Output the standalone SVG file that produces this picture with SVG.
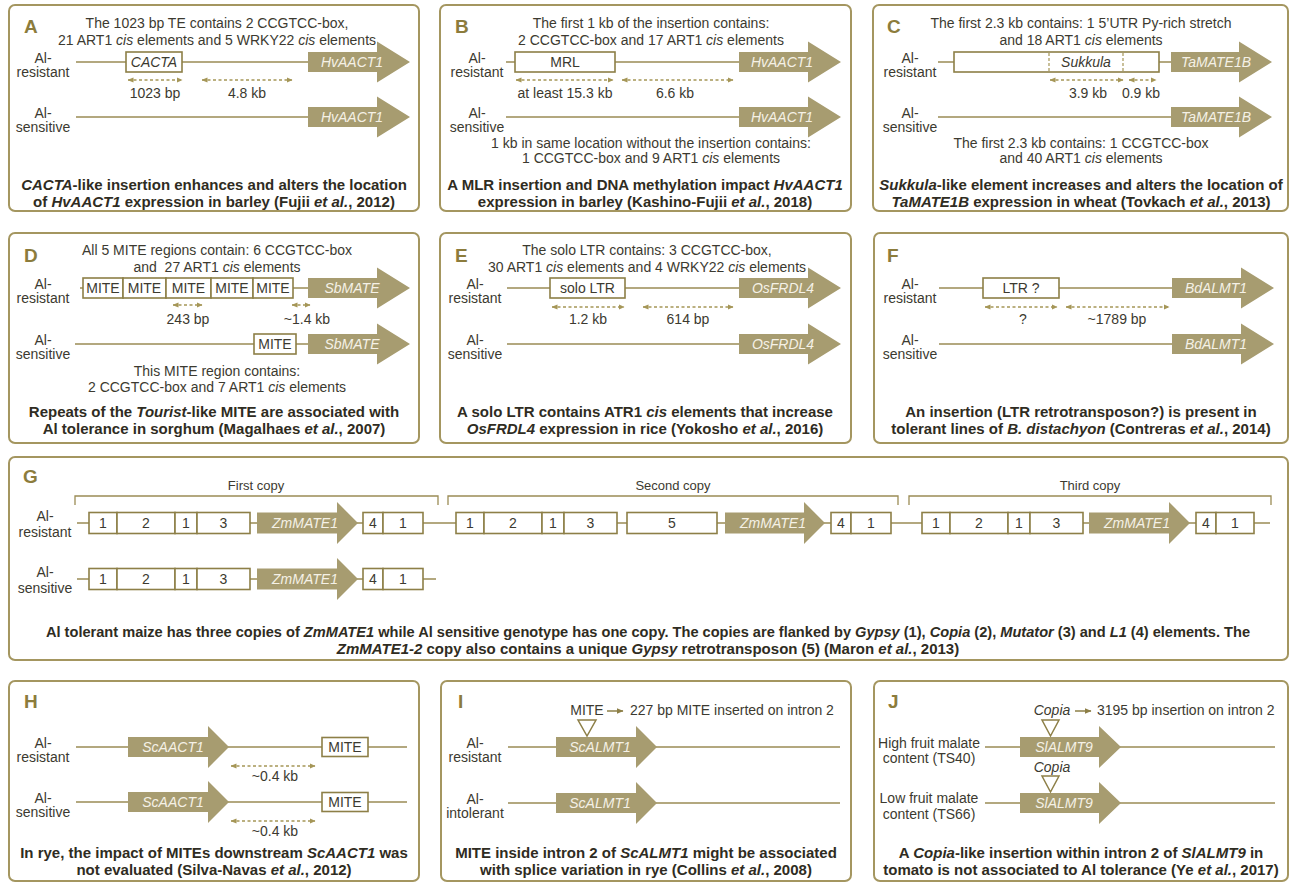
<svg xmlns="http://www.w3.org/2000/svg" width="1292" height="885" viewBox="0 0 1292 885">
<defs>
<style>
text{font-family:"Liberation Sans",Arial,sans-serif;font-size:14px;fill:#3c3a30;text-anchor:middle}
.panel{fill:#fff;stroke:#a49660;stroke-width:2}
.let{font-size:19px;font-weight:bold;fill:#8c7c3c;text-anchor:start}
.cap{font-size:15px;font-weight:bold;fill:#2f2c22}
.gene{font-style:italic;fill:#f5f1e6}
.it{font-style:italic}
.st{text-anchor:start}
.arr{fill:#a79c70}
.dna{stroke:#9b8c55;stroke-width:1.6;fill:none}
.box{fill:#fff;stroke:#8d7f47;stroke-width:1.6}
.dim{stroke:#a59657;stroke-width:1.3;stroke-dasharray:3 2.5;fill:none;marker-start:url(#ah);marker-end:url(#ah)}
.ptr{stroke:#8d7f47;stroke-width:1.5;fill:none;marker-end:url(#ah2)}
.brk{stroke:#9b8c55;stroke-width:1.3;fill:none}
.tri{fill:#fff;stroke:#8d7f47;stroke-width:1.5}
.sm{font-size:13px}
</style>
<marker id="ah" viewBox="0 0 6 6" refX="5.5" refY="3" markerWidth="6" markerHeight="6" markerUnits="userSpaceOnUse" orient="auto-start-reverse"><path d="M0,0.4 L6,3 L0,5.6Z" fill="#a59657"/></marker>
<marker id="ah2" viewBox="0 0 7 7" refX="6.5" refY="3.5" markerWidth="7" markerHeight="7" markerUnits="userSpaceOnUse" orient="auto"><path d="M0,0.5 L7,3.5 L0,6.5Z" fill="#8d7f47"/></marker>
</defs>
<rect width="1292" height="885" fill="#fff"/>

<!-- Panel A -->
<g id="panel-A">
<rect class="panel" x="9" y="5" width="410" height="206" rx="6"/>
<text class="let" x="24" y="33">A</text>
<text x="217" y="28">The 1023 bp TE contains 2 CCGTCC-box,</text>
<text x="217" y="45">21 ART1 <tspan class="it">cis</tspan> elements and 5 WRKY22 <tspan class="it">cis</tspan> elements</text>
<text x="43" y="63">Al-</text><text x="43" y="77">resistant</text>
<text x="43" y="118">Al-</text><text x="43" y="132">sensitive</text>
<g id="panel-A-lines">
<path class="dna" d="M76,62 H126 M182,62 H308 M76,117 H308"/>
<path class="dim" d="M128,80 H182"/><path class="dim" d="M202,80 H292"/>
</g>
<g id="A-cacta"><rect class="box" x="126" y="52" width="56" height="20"/><text class="it" x="154" y="67">CACTA</text></g>
<g id="A-gene1"><path class="arr" d="M308,52 H377 V41.5 L410,62 L377,82.5 V72 H308 Z"/><text class="gene" x="352" y="67">HvAACT1</text></g>
<g id="A-gene2"><path class="arr" d="M308,107 H377 V96.5 L410,117 L377,137.5 V127 H308 Z"/><text class="gene" x="352" y="122">HvAACT1</text></g>
<text x="155" y="98">1023 bp</text><text x="247" y="98">4.8 kb</text>
<text class="cap" x="214" y="190"><tspan class="it">CACTA</tspan>-like insertion enhances and alters the location</text>
<text class="cap" x="214" y="207">of <tspan class="it">HvAACT1</tspan> expression in barley (Fujii <tspan class="it">et al.</tspan>, 2012)</text>
</g>

<!-- Panel B -->
<g id="panel-B">
<rect class="panel" x="440" y="5" width="411" height="206" rx="6"/>
<text class="let" x="455" y="33">B</text>
<text x="651" y="28">The first 1 kb of the insertion contains:</text>
<text x="651" y="45">2 CCGTCC-box and 17 ART1 <tspan class="it">cis</tspan> elements</text>
<text x="477" y="63">Al-</text><text x="477" y="77">resistant</text>
<text x="477" y="118">Al-</text><text x="477" y="132">sensitive</text>
<g id="panel-B-lines">
<path class="dna" d="M506,62 H515 M615,62 H739 M506,117 H739"/>
<path class="dim" d="M516,80 H613"/><path class="dim" d="M622,80 H733"/>
</g>
<g id="B-mrl"><rect class="box" x="515" y="52" width="100" height="20"/><text x="565" y="67">MRL</text></g>
<g id="B-gene1"><path class="arr" d="M739,52 H808 V41.5 L841,62 L808,82.5 V72 H739 Z"/><text class="gene" x="782" y="67">HvAACT1</text></g>
<g id="B-gene2"><path class="arr" d="M739,107 H808 V96.5 L841,117 L808,137.5 V127 H739 Z"/><text class="gene" x="782" y="122">HvAACT1</text></g>
<text x="565" y="98">at least 15.3 kb</text><text x="675" y="98">6.6 kb</text>
<text x="651" y="148">1 kb in same location without the insertion contains:</text>
<text x="651" y="163">1 CCGTCC-box and 9 ART1 <tspan class="it">cis</tspan> elements</text>
<text class="cap" x="645" y="190">A MLR insertion and DNA methylation impact <tspan class="it">HvAACT1</tspan></text>
<text class="cap" x="645" y="207">expression in barley (Kashino-Fujii <tspan class="it">et al.</tspan>, 2018)</text>
</g>

<!-- Panel C -->
<g id="panel-C">
<rect class="panel" x="873" y="5" width="415" height="206" rx="6"/>
<text class="let" x="887" y="33">C</text>
<text x="1081" y="28">The first 2.3 kb contains: 1 5’UTR Py-rich stretch</text>
<text x="1081" y="45">and 18 ART1 <tspan class="it">cis</tspan> elements</text>
<text x="910" y="63">Al-</text><text x="910" y="77">resistant</text>
<text x="910" y="118">Al-</text><text x="910" y="132">sensitive</text>
<g id="panel-C-lines">
<path class="dna" d="M938,62 H954 M1159,62 H1171 M938,117 H1171"/>
<path class="dim" d="M1050,80 H1123"/><path class="dim" d="M1129,80 H1156"/>
</g>
<g id="C-sukkula"><rect class="box" x="954" y="52" width="205" height="20"/>
<path d="M1049,53 V71 M1123,53 V71" stroke="#a59657" stroke-width="1.2" stroke-dasharray="3 2"/>
<text class="it" x="1086" y="67">Sukkula</text></g>
<g id="C-gene1"><path class="arr" d="M1171,52 H1239 V41.5 L1272,62 L1239,82.5 V72 H1171 Z"/><text class="gene" x="1216" y="67">TaMATE1B</text></g>
<g id="C-gene2"><path class="arr" d="M1171,107 H1239 V96.5 L1272,117 L1239,137.5 V127 H1171 Z"/><text class="gene" x="1216" y="122">TaMATE1B</text></g>
<text x="1088" y="98">3.9 kb</text><text x="1141" y="98">0.9 kb</text>
<text x="1081" y="148">The first 2.3 kb contains: 1 CCGTCC-box</text>
<text x="1081" y="163">and 40 ART1 <tspan class="it">cis</tspan> elements</text>
<text class="cap" x="1081" y="190"><tspan class="it">Sukkula</tspan>-like element increases and alters the location of</text>
<text class="cap" x="1081" y="207"><tspan class="it">TaMATE1B</tspan> expression in wheat (Tovkach <tspan class="it">et al.</tspan>, 2013)</text>
</g>

<!-- Panel D -->
<g id="panel-D">
<rect class="panel" x="9" y="233" width="410" height="210" rx="6"/>
<text class="let" x="24" y="262">D</text>
<text x="217" y="255">All 5 MITE regions contain: 6 CCGTCC-box</text>
<text x="217" y="272">and&#160; 27 ART1 <tspan class="it">cis</tspan> elements</text>
<text x="43" y="289">Al-</text><text x="43" y="303">resistant</text>
<text x="43" y="345">Al-</text><text x="43" y="359">sensitive</text>
<g id="panel-D-lines">
<path class="dna" d="M80,288 H83 M293,288 H308 M75,344 H254 M296,344 H308"/>
<path class="dim" d="M173,305 H202"/><path class="dim" d="M292,305 H310"/>
</g>
<g id="D-mites">
<rect class="box" x="83" y="278" width="40" height="20"/><text x="103" y="293">MITE</text>
<rect class="box" x="123" y="278" width="43" height="20"/><text x="144.5" y="293">MITE</text>
<rect class="box" x="166" y="278" width="45" height="20"/><text x="188.5" y="293">MITE</text>
<rect class="box" x="211" y="278" width="42" height="20"/><text x="232" y="293">MITE</text>
<rect class="box" x="253" y="278" width="40" height="20"/><text x="273" y="293">MITE</text>
</g>
<g id="D-mite2"><rect class="box" x="254" y="334" width="42" height="20"/><text x="275" y="349">MITE</text></g>
<g id="D-gene1"><path class="arr" d="M308,278 H377 V267.5 L410,288 L377,308.5 V298 H308 Z"/><text class="gene" x="352" y="293">SbMATE</text></g>
<g id="D-gene2"><path class="arr" d="M308,334 H377 V323.5 L410,344 L377,364.5 V354 H308 Z"/><text class="gene" x="352" y="349">SbMATE</text></g>
<text x="188" y="324">243 bp</text><text x="307" y="324">~1.4 kb</text>
<text x="217" y="376">This MITE region contains:</text>
<text x="217" y="392">2 CCGTCC-box and 7 ART1 <tspan class="it">cis</tspan> elements</text>
<text class="cap" x="214" y="417">Repeats of the <tspan class="it">Tourist</tspan>-like MITE are associated with</text>
<text class="cap" x="214" y="434">Al tolerance in sorghum (Magalhaes <tspan class="it">et al.</tspan>, 2007)</text>
</g>

<!-- Panel E -->
<g id="panel-E">
<rect class="panel" x="440" y="233" width="411" height="210" rx="6"/>
<text class="let" x="455" y="262">E</text>
<text x="647" y="255">The solo LTR contains: 3 CCGTCC-box,</text>
<text x="647" y="272">30 ART1 <tspan class="it">cis</tspan> elements and 4 WRKY22 <tspan class="it">cis</tspan> elements</text>
<text x="475" y="289">Al-</text><text x="475" y="303">resistant</text>
<text x="475" y="345">Al-</text><text x="475" y="359">sensitive</text>
<g id="panel-E-lines">
<path class="dna" d="M507,288 H550 M625,288 H739 M507,344 H739"/>
<path class="dim" d="M552,307 H624"/><path class="dim" d="M643,307 H733"/>
</g>
<g id="E-ltr"><rect class="box" x="550" y="278" width="75" height="20"/><text x="587.5" y="293">solo LTR</text></g>
<g id="E-gene1"><path class="arr" d="M739,278 H808 V267.5 L841,288 L808,308.5 V298 H739 Z"/><text class="gene" x="783" y="293">OsFRDL4</text></g>
<g id="E-gene2"><path class="arr" d="M739,334 H808 V323.5 L841,344 L808,364.5 V354 H739 Z"/><text class="gene" x="783" y="349">OsFRDL4</text></g>
<text x="588" y="324">1.2 kb</text><text x="688" y="324">614 bp</text>
<text class="cap" x="645" y="417">A solo LTR contains ATR1 <tspan class="it">cis</tspan> elements that increase</text>
<text class="cap" x="645" y="434"><tspan class="it">OsFRDL4</tspan> expression in rice (Yokosho <tspan class="it">et al.</tspan>, 2016)</text>
</g>

<!-- Panel F -->
<g id="panel-F">
<rect class="panel" x="874" y="233" width="414" height="210" rx="6"/>
<text class="let" x="887" y="262">F</text>
<text x="910" y="289">Al-</text><text x="910" y="303">resistant</text>
<text x="910" y="345">Al-</text><text x="910" y="359">sensitive</text>
<g id="panel-F-lines">
<path class="dna" d="M939,288 H983 M1059,288 H1172 M939,344 H1172"/>
<path class="dim" d="M985,307 H1057"/><path class="dim" d="M1066,307 H1169"/>
</g>
<g id="F-ltr"><rect class="box" x="983" y="278" width="76" height="20"/><text x="1021" y="293">LTR ?</text></g>
<g id="F-gene1"><path class="arr" d="M1172,278 H1241 V267.5 L1274,288 L1241,308.5 V298 H1172 Z"/><text class="gene" x="1216" y="293">BdALMT1</text></g>
<g id="F-gene2"><path class="arr" d="M1172,334 H1241 V323.5 L1274,344 L1241,364.5 V354 H1172 Z"/><text class="gene" x="1216" y="349">BdALMT1</text></g>
<text x="1023" y="324">?</text><text x="1117" y="324">~1789 bp</text>
<text class="cap" x="1081" y="417">An insertion (LTR retrotransposon?) is present in</text>
<text class="cap" x="1081" y="434">tolerant lines of <tspan class="it">B. distachyon</tspan> (Contreras <tspan class="it">et al.</tspan>, 2014)</text>
</g>

<!-- Panel G -->
<g id="panel-G">
<rect class="panel" x="9" y="457" width="1279" height="203" rx="6"/>
<text class="let" x="23" y="483">G</text>
<text class="sm" x="256" y="490">First copy</text>
<text class="sm" x="673" y="490">Second copy</text>
<text class="sm" x="1090" y="490">Third copy</text>
<path class="brk" d="M75,505 V496 H438 V505 M448,505 V496 H898 V505 M909,505 V496 H1271 V505"/>
<text x="45" y="521">Al-</text><text x="45" y="537">resistant</text>
<text x="45" y="577">Al-</text><text x="45" y="593">sensitive</text>
<g id="panel-G-lines">
<path class="dna" d="M77,523 H1270 M77,579 H436"/>
</g>
<g id="G-copy1" class="box">
<rect x="89" y="512.5" width="28" height="21"/><rect x="117" y="512.5" width="58" height="21"/><rect x="175" y="512.5" width="22" height="21"/><rect x="197" y="512.5" width="53" height="21"/>
<rect x="363" y="512.5" width="20" height="21"/><rect x="383" y="512.5" width="40" height="21"/>
</g>
<g id="G-copy1-text">
<text x="103" y="528">1</text><text x="146" y="528">2</text><text x="186" y="528">1</text><text x="223.5" y="528">3</text><text x="373" y="528">4</text><text x="403" y="528">1</text>
<path class="arr" d="M257,512.5 H337 V502 L358,523 L337,544 V533.5 H257 Z"/><text class="gene" x="305" y="528">ZmMATE1</text>
</g>
<g id="G-copy2" class="box">
<rect x="456" y="512.5" width="28" height="21"/><rect x="484" y="512.5" width="58" height="21"/><rect x="542" y="512.5" width="22" height="21"/><rect x="564" y="512.5" width="53" height="21"/>
<rect x="627" y="512.5" width="90" height="21"/>
<rect x="831" y="512.5" width="20" height="21"/><rect x="851" y="512.5" width="40" height="21"/>
</g>
<g id="G-copy2-text">
<text x="470" y="528">1</text><text x="513" y="528">2</text><text x="553" y="528">1</text><text x="590.5" y="528">3</text><text x="672" y="528">5</text><text x="841" y="528">4</text><text x="871" y="528">1</text>
<path class="arr" d="M725,512.5 H804 V502 L825,523 L804,544 V533.5 H725 Z"/><text class="gene" x="773" y="528">ZmMATE1</text>
</g>
<g id="G-copy3" class="box">
<rect x="922" y="512.5" width="28" height="21"/><rect x="950" y="512.5" width="58" height="21"/><rect x="1008" y="512.5" width="22" height="21"/><rect x="1030" y="512.5" width="53" height="21"/>
<rect x="1196" y="512.5" width="20" height="21"/><rect x="1216" y="512.5" width="38" height="21"/>
</g>
<g id="G-copy3-text">
<text x="936" y="528">1</text><text x="979" y="528">2</text><text x="1019" y="528">1</text><text x="1056.5" y="528">3</text><text x="1206" y="528">4</text><text x="1235" y="528">1</text>
<path class="arr" d="M1089,512.5 H1169 V502 L1190,523 L1169,544 V533.5 H1089 Z"/><text class="gene" x="1137" y="528">ZmMATE1</text>
</g>
<g id="G-sensitive" class="box">
<rect x="89" y="568.5" width="28" height="21"/><rect x="117" y="568.5" width="58" height="21"/><rect x="175" y="568.5" width="22" height="21"/><rect x="197" y="568.5" width="53" height="21"/>
<rect x="363" y="568.5" width="20" height="21"/><rect x="383" y="568.5" width="40" height="21"/>
</g>
<g id="G-sensitive-text">
<text x="103" y="584">1</text><text x="146" y="584">2</text><text x="186" y="584">1</text><text x="223.5" y="584">3</text><text x="373" y="584">4</text><text x="403" y="584">1</text>
<path class="arr" d="M257,568.5 H337 V558 L358,579 L337,600 V589.5 H257 Z"/><text class="gene" x="305" y="584">ZmMATE1</text>
</g>
<text class="cap" x="648" y="637" style="font-size:14.6px">Al tolerant maize has three copies of <tspan class="it">ZmMATE1</tspan> while Al sensitive genotype has one copy. The copies are flanked by <tspan class="it">Gypsy</tspan> (1), <tspan class="it">Copia</tspan> (2), <tspan class="it">Mutator</tspan> (3) and <tspan class="it">L1</tspan> (4) elements. The</text>
<text class="cap" x="648" y="654"><tspan class="it">ZmMATE1-2</tspan> copy also contains a unique <tspan class="it">Gypsy</tspan> retrotransposon (5) (Maron <tspan class="it">et al.</tspan>, 2013)</text>
</g>

<!-- Panel H -->
<g id="panel-H">
<rect class="panel" x="9" y="681" width="410" height="200" rx="6"/>
<text class="let" x="24" y="708">H</text>
<text x="43" y="748">Al-</text><text x="43" y="762">resistant</text>
<text x="43" y="803">Al-</text><text x="43" y="817">sensitive</text>
<g id="panel-H-lines">
<path class="dna" d="M76,747 H407 M76,802 H407"/>
<path class="dim" d="M231,766 H315"/><path class="dim" d="M231,821 H315"/>
</g>
<g id="H-gene1"><path class="arr" d="M128,737 H208 V726 L229,747 L208,768 V757 H128 Z"/><text class="gene" x="173" y="752">ScAACT1</text></g>
<g id="H-gene2"><path class="arr" d="M128,792 H208 V781 L229,802 L208,823 V812 H128 Z"/><text class="gene" x="173" y="807">ScAACT1</text></g>
<g id="H-mite1"><rect class="box" x="322" y="737.5" width="46" height="19"/><text x="345" y="752">MITE</text></g>
<g id="H-mite2"><rect class="box" x="322" y="792.5" width="46" height="19"/><text x="345" y="807">MITE</text></g>
<text x="275" y="781">~0.4 kb</text><text x="275" y="836">~0.4 kb</text>
<text class="cap" x="214" y="858">In rye, the impact of MITEs downstream <tspan class="it">ScAACT1</tspan> was</text>
<text class="cap" x="214" y="875">not evaluated (Silva-Navas <tspan class="it">et al.</tspan>, 2012)</text>
</g>

<!-- Panel I -->
<g id="panel-I">
<rect class="panel" x="441" y="681" width="410" height="200" rx="6"/>
<text class="let" x="458" y="708">I</text>
<text x="587" y="715">MITE</text>
<path class="ptr" d="M607,711 H623"/>
<text class="st" x="630" y="715">227 bp MITE inserted on intron 2</text>
<text x="475" y="748">Al-</text><text x="475" y="762">resistant</text>
<text x="475" y="804">Al-</text><text x="475" y="818">intolerant</text>
<g id="panel-I-lines">
<path class="dna" d="M508,747 H840 M508,803 H840"/>
</g>
<g id="I-gene1"><path class="arr" d="M556,737 H636 V726 L657,747 L636,768 V757 H556 Z"/><text class="gene" x="600" y="752">ScALMT1</text></g>
<g id="I-gene2"><path class="arr" d="M556,793 H636 V782 L657,803 L636,824 V813 H556 Z"/><text class="gene" x="600" y="808">ScALMT1</text></g>
<path class="tri" d="M578,720 H596 L587,736 Z"/>
<text class="cap" x="646" y="858">MITE inside intron 2 of <tspan class="it">ScALMT1</tspan> might be associated</text>
<text class="cap" x="646" y="875">with splice variation in rye (Collins <tspan class="it">et al.</tspan>, 2008)</text>
</g>

<!-- Panel J -->
<g id="panel-J">
<rect class="panel" x="874" y="681" width="414" height="200" rx="6"/>
<text class="let" x="888" y="708">J</text>
<text class="it" x="1052" y="715">Copia</text>
<path class="ptr" d="M1075,711 H1091"/>
<text class="st" x="1097" y="715">3195 bp insertion on intron 2</text>
<text x="929" y="748">High fruit malate</text><text x="929" y="763">content (TS40)</text>
<text x="929" y="803">Low fruit malate</text><text x="929" y="819">content (TS66)</text>
<g id="panel-J-lines">
<path class="dna" d="M985,747 H1275 M985,803 H1275"/>
</g>
<g id="J-gene1"><path class="arr" d="M1020,737 H1099 V726 L1121,747 L1099,768 V757 H1020 Z"/><text class="gene" x="1064" y="752">SlALMT9</text></g>
<g id="J-gene2"><path class="arr" d="M1020,793 H1099 V782 L1121,803 L1099,824 V813 H1020 Z"/><text class="gene" x="1064" y="808">SlALMT9</text></g>
<path class="tri" d="M1042,720 H1059 L1050.5,736 Z"/>
<text class="it" x="1052" y="772">Copia</text>
<path class="tri" d="M1042,776 H1059 L1050.5,792 Z"/>
<text class="cap" x="1081" y="858">A <tspan class="it">Copia</tspan>-like insertion within intron 2 of <tspan class="it">SlALMT9</tspan> in</text>
<text class="cap" x="1081" y="875">tomato is not associated to Al tolerance (Ye <tspan class="it">et al.</tspan>, 2017)</text>
</g>
</svg>
